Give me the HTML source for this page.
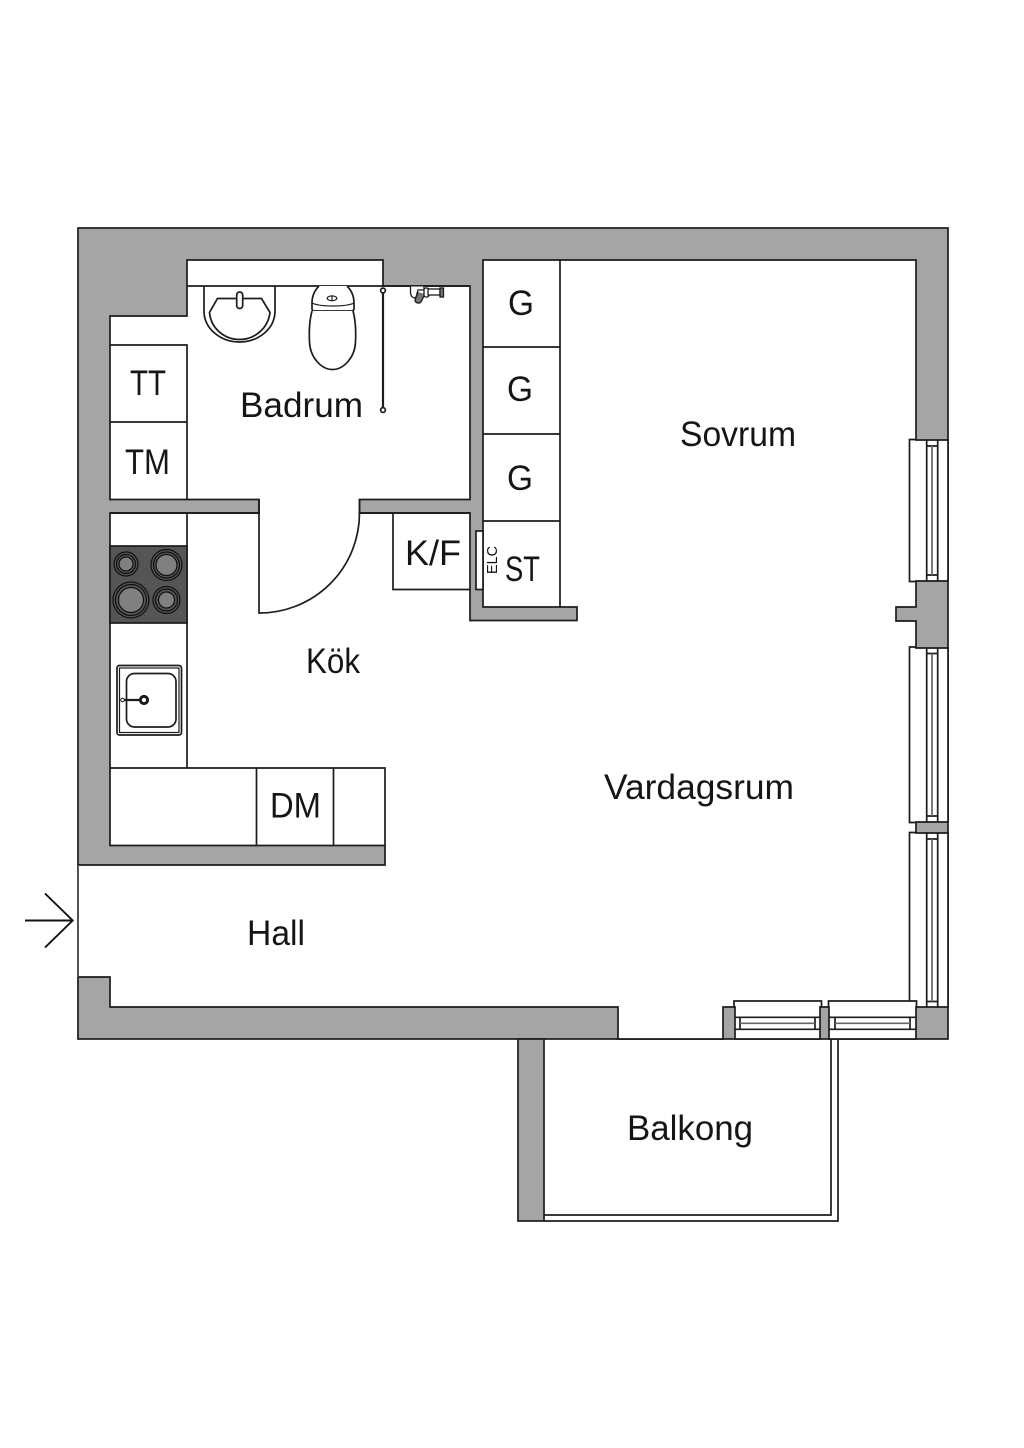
<!DOCTYPE html>
<html>
<head>
<meta charset="utf-8">
<style>
html,body{margin:0;padding:0;background:#fff}
svg{display:block}
text{font-family:"Liberation Sans",sans-serif;fill:#151515}
</style>
</head>
<body>
<svg width="1024" height="1448" viewBox="0 0 1024 1448" xmlns="http://www.w3.org/2000/svg">
<rect width="1024" height="1448" fill="#fff"/>
<g stroke="#1c1c1c" stroke-width="1.7" fill="none">
  <!-- walls -->
  <rect x="78" y="228" width="870" height="811" fill="#a5a5a5"/>
  <rect x="518" y="1039" width="26" height="182" fill="#a5a5a5"/>
  <!-- bathroom -->
  <path d="M187,260 H383 V286 H470 V499.5 H359.5 V513 H259 V499.5 H110 V316 H187 Z" fill="#fff"/>
  <line x1="187" y1="286" x2="470" y2="286"/>
  <!-- main open space -->
  <path d="M110,513 H470 V620.5 H577 V607 H483 V260 H916 V440 H948 V581 H916 V607 H896 V621 H916 V648 H948 V822 H916 V833 H948 V1007 H916 V1039 H829 V1007 H820 V1039 H735 V1007 H723 V1039 H618 V1007 H110 V977 H78 V865 H385 V845.5 H110 Z" fill="#fff"/>
  <rect x="260" y="500.2" width="98.5" height="14" fill="#fff" stroke="none"/>
  <path d="M259,499.5 V613 A100,100 0 0 0 359.5,513 V499.5"/>
  <path d="M110,513 H259 M359.5,513 H470"/>

  <!-- bath cabinets -->
  <path d="M110,345 H187 V499.5 M110,422 H187"/>
  <!-- closets -->
  <path d="M560,260 V607 M483,347 H560 M483,434 H560 M483,521 H560"/>
  <!-- K/F -->
  <path d="M393,513 V589.5 H470"/>
  <rect x="476" y="531" width="7" height="58.5" fill="#fff"/>
  <!-- kitchen counter -->
  <path d="M187,513 V768 M110,768 H385 V845.5 M256.5,768 V845.5 M333.5,768 V845.5"/>
  <!-- cooktop -->
  <rect x="110" y="546" width="77" height="77" fill="#555"/>
  <g fill="#808080" stroke="#111" stroke-width="1.2">
    <circle cx="126" cy="564" r="12" fill="#555"/><circle cx="126" cy="564" r="9.5" fill="#555"/><circle cx="126" cy="564" r="7"/>
    <circle cx="166.5" cy="565" r="15.5" fill="#555"/><circle cx="166.5" cy="565" r="13" fill="#555"/><circle cx="166.5" cy="565" r="10.5"/>
    <circle cx="131" cy="600" r="18" fill="#555"/><circle cx="131" cy="600" r="15.5" fill="#555"/><circle cx="131" cy="600" r="12.5"/>
    <circle cx="166.5" cy="600" r="13.5" fill="#555"/><circle cx="166.5" cy="600" r="11" fill="#555"/><circle cx="166.5" cy="600" r="8"/>
  </g>
  <!-- kitchen sink -->
  <rect x="117" y="665.5" width="64.5" height="69.5" rx="2.5"/>
  <rect x="119.5" y="668" width="59.5" height="64.5" stroke-width="1.2"/>
  <rect x="126.5" y="673.5" width="49.5" height="53.5" rx="8" fill="#fff"/>
  <line x1="122" y1="700" x2="144" y2="700" stroke-width="2.2"/>
  <circle cx="122.5" cy="700" r="1.8" fill="#fff" stroke-width="1"/>
  <circle cx="144" cy="700" r="3.6" fill="#fff" stroke-width="3"/>

  <!-- washbasin -->
  <path d="M204,286 V311 C204,329 221,342 239.5,342 C258,342 275,329 275,311 V286"/>
  <path d="M217.5,298.5 H261.5 L270,312.5 C268,329 254,339.5 239.5,339.5 C225,339.5 211,329 209.5,312.5 Z" fill="#fff"/>
  <rect x="236.7" y="292" width="6" height="16.5" rx="3" fill="#fff"/>
  <!-- toilet -->
  <path d="M319,286 C315,290 312,295 312,303 V309 C312,310 313,311 314,311 H352 C353,311 354,310 354,309 V303 C354,295 351,290 347,286" fill="#fff"/>
  <path d="M312,303 C320,307 346,307 354,303" stroke-width="1.2"/>
  <path d="M312,311 C309,322 309,332 309.5,342 C310,357 321,369.5 332.5,369.5 C344,369.5 355,357 355.5,342 C356,332 356,322 353,311" fill="#fff"/>
  <ellipse cx="332" cy="298.3" rx="4.8" ry="2.4" stroke-width="1.2"/>
  <line x1="332" y1="296" x2="332" y2="300.5" stroke-width="1.2"/>
  <!-- shower rail -->
  <line x1="383" y1="288" x2="383" y2="410" stroke-width="2.2"/>
  <circle cx="383" cy="290.5" r="2.4" fill="#fff"/>
  <circle cx="383" cy="410" r="2.4" fill="#fff"/>
  <!-- shower mixer -->
  <g stroke-width="1.3">
    <path d="M410.5,286.5 V293 C411,297 414,299 416,297 L418,290 H424 V286.5" fill="#fff"/>
    <path d="M418,292 L415,300 C415,303 419,304 421,302 L425,294" fill="#777"/>
    <rect x="424" y="288" width="5" height="9" rx="2" fill="#fff"/>
    <rect x="428" y="289" width="12" height="6" fill="#fff"/>
    <rect x="440" y="288" width="3.5" height="9" fill="#777"/>
  </g>

  <!-- east windows -->
  <g>
    <path d="M916,439.5 H909.5 V581.5 H916"/>
    <path d="M926.7,440 V581 M937.7,440 V581 M926.7,446 H937.7 M926.7,575 H937.7"/>
    <line x1="932" y1="446" x2="932" y2="575" stroke="#666"/>
    <path d="M916,647 H909.5 V822.5 H916"/>
    <path d="M926.7,648 V822 M937.7,648 V822 M926.7,653.5 H937.7 M926.7,816 H937.7"/>
    <line x1="932" y1="653.5" x2="932" y2="816" stroke="#666"/>
    <path d="M916,832.5 H909.5 V1001"/>
    <path d="M926.7,833 V1007 M937.7,833 V1007 M926.7,839 H937.7 M926.7,1001.5 H937.7"/>
    <line x1="932" y1="839" x2="932" y2="1001.5" stroke="#666"/>
  </g>
  <!-- south windows -->
  <g>
    <path d="M734,1007 V1001 H821.5 V1007"/>
    <path d="M735,1017.3 H820 M735,1029.3 H820 M740,1017.3 V1029.3 M815,1017.3 V1029.3"/>
    <line x1="740" y1="1023.3" x2="815" y2="1023.3" stroke="#666"/>
    <path d="M828.5,1007 V1001 H916.5 V1007"/>
    <path d="M829,1017.3 H916 M829,1029.3 H916 M835,1017.3 V1029.3 M910,1017.3 V1029.3"/>
    <line x1="835" y1="1023.3" x2="910" y2="1023.3" stroke="#666"/>
  </g>
  <!-- balcony -->
  <path d="M544,1215 H831 V1039 M838,1039 V1221 H544"/>
  <line x1="78" y1="865" x2="78" y2="977" stroke="#555"/>
  <!-- entry arrow -->
  <path d="M25,920.5 H73 M45,893.5 L72.7,920.5 L45,947.5" stroke="#111" stroke-width="1.9"/>
</g>

<g font-size="35">
  <text x="240" y="417" textLength="123" lengthAdjust="spacingAndGlyphs">Badrum</text>
  <text x="130" y="395" textLength="36" lengthAdjust="spacingAndGlyphs">TT</text>
  <text x="125" y="474" textLength="45" lengthAdjust="spacingAndGlyphs">TM</text>
  <text x="508" y="315" textLength="26" lengthAdjust="spacingAndGlyphs">G</text>
  <text x="507" y="401" textLength="26" lengthAdjust="spacingAndGlyphs">G</text>
  <text x="507" y="490" textLength="26" lengthAdjust="spacingAndGlyphs">G</text>
  <text x="680" y="446" textLength="116" lengthAdjust="spacingAndGlyphs">Sovrum</text>
  <text x="405" y="565" textLength="56" lengthAdjust="spacingAndGlyphs">K/F</text>
  <text x="505" y="581" textLength="35" lengthAdjust="spacingAndGlyphs">ST</text>
  <text x="306" y="673" textLength="54" lengthAdjust="spacingAndGlyphs">Kök</text>
  <text x="270" y="817.5" textLength="51" lengthAdjust="spacingAndGlyphs">DM</text>
  <text x="604" y="799" textLength="190" lengthAdjust="spacingAndGlyphs">Vardagsrum</text>
  <text x="247" y="945" textLength="58" lengthAdjust="spacingAndGlyphs">Hall</text>
  <text x="627" y="1140" textLength="126" lengthAdjust="spacingAndGlyphs">Balkong</text>
</g>
<text transform="translate(497,574) rotate(-90)" font-size="15" textLength="28" lengthAdjust="spacingAndGlyphs">ELC</text>
</svg>
</body>
</html>
